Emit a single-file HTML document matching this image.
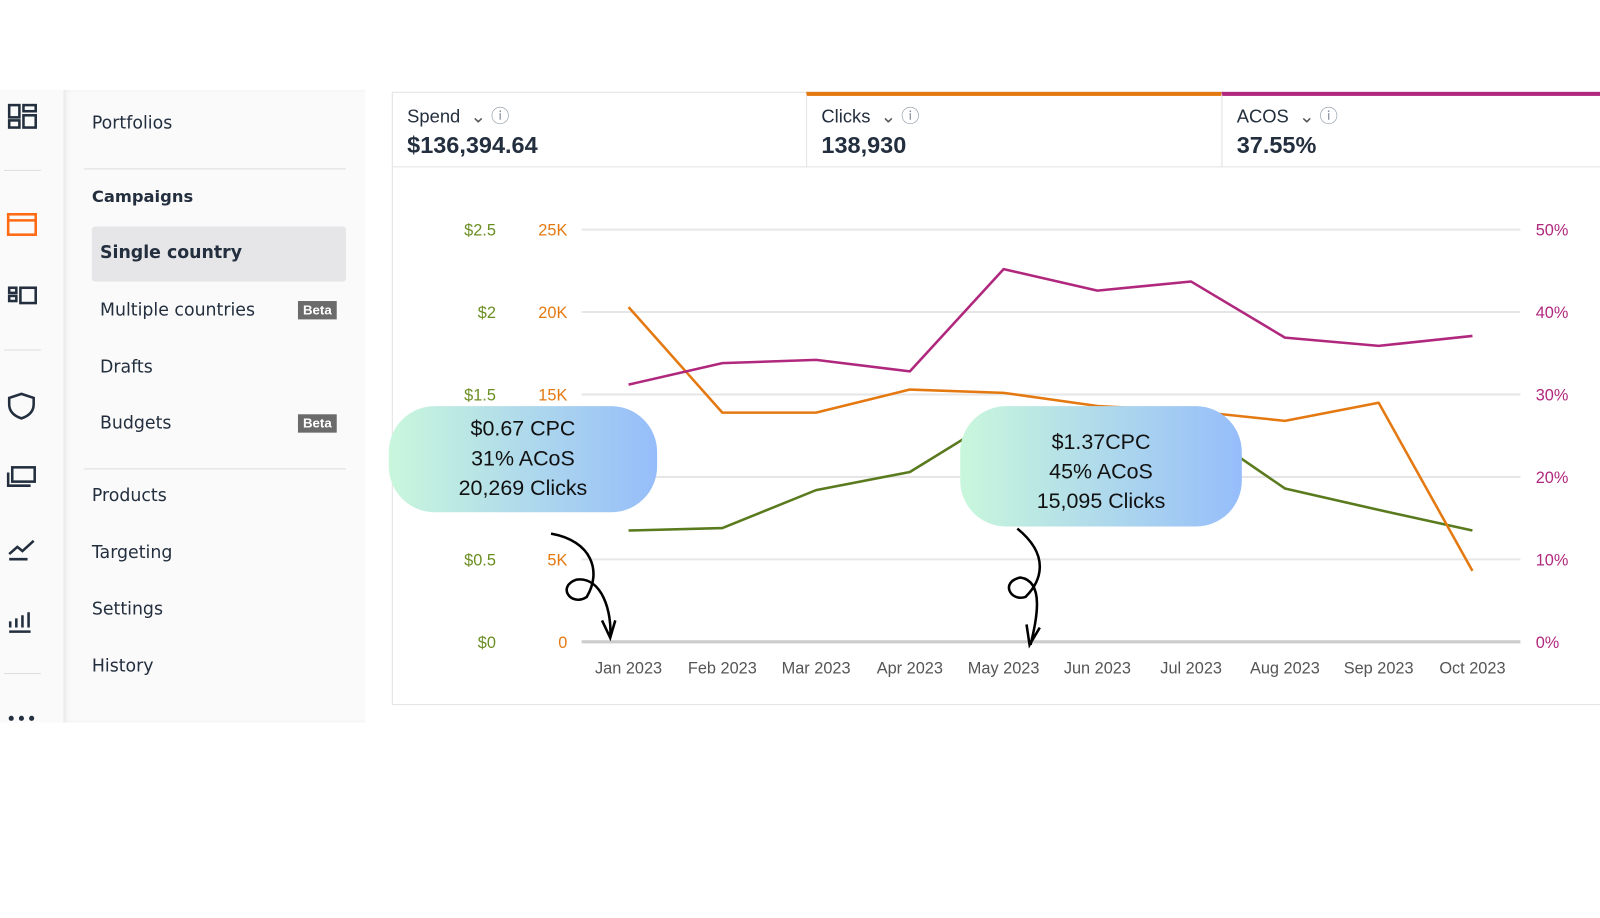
<!DOCTYPE html>
<html><head><meta charset="utf-8"><style>
body{margin:0;width:1600px;height:900px;background:#fff;font-family:"Liberation Sans",sans-serif;position:relative;overflow:hidden}
#root{position:absolute;left:0;top:0;width:1600px;height:900px;transform:scale(1.0204);transform-origin:0 0}
.abs{position:absolute}
#rail{left:0;top:88px;width:62px;height:620px;background:#fafafa}
#nav{left:62px;top:88px;width:296px;height:620px;background:#fafafa;box-shadow:inset 4px 0 6px -3px #ddd}
.nv{position:absolute;font-size:17px;color:#232f3e;font-family:"DejaVu Sans",sans-serif}
.beta{position:absolute;left:292px;width:38px;height:18px;background:#6b6b6b;color:#fff;font-size:13px;font-weight:bold;text-align:center;line-height:18px}
.hr{position:absolute;left:82px;width:257px;height:1px;background:#ddd}
.card{position:absolute;top:90px;height:74px;border:1px solid #e3e3e3;background:#fff;box-sizing:border-box}
.lab{position:absolute;left:14px;top:9px;font-size:18px;color:#232f3e}
.val{position:absolute;left:14px;top:38px;font-size:23px;font-weight:bold;color:#232f3e}
.bub{position:absolute;background:linear-gradient(90deg,#c9f7dc,#96bdfa);border-radius:45px;text-align:center;font-size:21px;color:#111;line-height:29px}
</style></head><body><div id="root">
<div class="abs" id="rail">
<svg width="62" height="620">
<g fill="none" stroke="#232f3e" stroke-width="2.5">
<rect x="9" y="15" width="10" height="12"/><rect x="23" y="15" width="12" height="6"/><rect x="9" y="30" width="10" height="7"/><rect x="23" y="25" width="12" height="12"/>
<rect x="8" y="122" width="27" height="20" stroke="#ff6a13"/><line x1="8" y1="128" x2="35" y2="128" stroke="#ff6a13"/>
<rect x="9" y="194" width="7" height="5"/><rect x="9" y="202" width="7" height="5"/><rect x="20" y="194" width="15" height="15"/>
<path d="M21 298 l12 4 v6 q0 10 -12 14 q-12 -4 -12 -14 v-6z"/>
<rect x="12" y="370" width="22" height="14"/><path d="M8 375 v13 h22"/>
<path d="M9 455 l8-7 5 4 11-10 M9 460 h18"/>
<path d="M10 527 v-6 M16 527 v-9 M22 527 v-12 M28 527 v-15 M9 531 h21"/>
</g>
<line x1="4" y1="79" x2="40" y2="79" stroke="#ddd"/><line x1="4" y1="255" x2="40" y2="255" stroke="#ddd"/><line x1="4" y1="572" x2="40" y2="572" stroke="#ddd"/>
<circle cx="11" cy="616" r="2.5" fill="#232f3e"/><circle cx="21" cy="616" r="2.5" fill="#232f3e"/><circle cx="31" cy="616" r="2.5" fill="#232f3e"/>
</svg></div>
<div class="abs" id="nav"></div>
<div class="nv" style="left:90px;top:111px">Portfolios</div>
<div class="hr" style="top:165px"></div>
<div class="nv" style="left:90px;top:183px;font-weight:bold;font-size:16px">Campaigns</div>
<div class="abs" style="left:90px;top:222px;width:249px;height:54px;background:#e6e6e8;border-radius:3px"></div>
<div class="nv" style="left:98px;top:238px;font-weight:bold">Single country</div>
<div class="nv" style="left:98px;top:294px">Multiple countries</div>
<div class="beta" style="top:295px">Beta</div>
<div class="nv" style="left:98px;top:350px">Drafts</div>
<div class="nv" style="left:98px;top:405px">Budgets</div>
<div class="beta" style="top:406px">Beta</div>
<div class="hr" style="top:459px"></div>
<div class="nv" style="left:90px;top:476px">Products</div>
<div class="nv" style="left:90px;top:532px">Targeting</div>
<div class="nv" style="left:90px;top:587px">Settings</div>
<div class="nv" style="left:90px;top:643px">History</div>

<div class="abs" style="left:384px;top:90px;width:1220px;height:601px;border:1px solid #e3e3e3;box-sizing:border-box"></div>
<div class="card" style="left:384px;width:407px"><div class="lab">Spend &nbsp;<span style="color:#555">⌄</span> <span style="color:#8a96a3">ⓘ</span></div><div class="val">$136,394.64</div></div>
<div class="card" style="left:790px;width:408px;border-top:4px solid #e47911"><div class="lab" style="top:6px">Clicks &nbsp;<span style="color:#555">⌄</span> <span style="color:#8a96a3">ⓘ</span></div><div class="val" style="top:35px">138,930</div></div>
<div class="card" style="left:1197px;width:410px;border-top:4px solid #b0287d"><div class="lab" style="top:6px">ACOS &nbsp;<span style="color:#555">⌄</span> <span style="color:#8a96a3">ⓘ</span></div><div class="val" style="top:35px">37.55%</div></div>

<svg class="abs" style="left:0;top:0" width="1600" height="900" id="chart"></svg>
<div class="bub" style="left:381px;top:398px;width:263px;height:104px;padding-top:8px;box-sizing:border-box">$0.67 CPC<br>31% ACoS<br>20,269 Clicks</div>
<div class="bub" style="left:941px;top:398px;width:276px;height:118px;padding-top:21px;box-sizing:border-box">$1.37CPC<br>45% ACoS<br>15,095 Clicks</div>
<svg class="abs" style="left:0;top:0" width="1600" height="900" fill="none" stroke="#000" stroke-width="2.5">
<path d="M540 523 C580 530 590 560 575 585 C560 595 545 575 565 568 C590 565 600 600 598 625 M590 608 l8 17 l5 -17"/>
<path d="M997 518 C1030 545 1020 570 1005 585 C990 590 980 570 1000 566 C1025 570 1015 610 1010 632 M1006 612 l3 20 l10 -17"/>
</svg>
</div>
<script>
const months=["Jan 2023","Feb 2023","Mar 2023","Apr 2023","May 2023","Jun 2023","Jul 2023","Aug 2023","Sep 2023","Oct 2023"];
const clicks=[20.3,13.9,13.9,15.3,15.1,14.3,14.0,13.4,14.5,4.3];
const acos=[31.2,33.8,34.2,32.8,45.2,42.6,43.7,36.9,35.9,37.1];
const cpc=[0.675,0.69,0.92,1.03,1.38,1.35,1.32,0.93,0.80,0.675];
const clickTicks=["0","5K","10K","15K","20K","25K"];
const cpcTicks=["$0","$0.5","$1","$1.5","$2","$2.5"];
const acosTicks=["0%","10%","20%","30%","40%","50%"];
const svg=document.getElementById('chart');const NS="http://www.w3.org/2000/svg";
const y0=629,y1=225,x0=616,x1=1443;
const yC=v=>y0-(v/25)*(y0-y1),yA=v=>y0-(v/50)*(y0-y1),yS=v=>y0-(v/2.5)*(y0-y1);
const xM=i=>x0+i*(x1-x0)/(months.length-1);
function mk(t,a){const e=document.createElementNS(NS,t);for(const k in a)e.setAttribute(k,a[k]);svg.appendChild(e);return e;}
for(let i=0;i<6;i++){const y=y0-i*(y0-y1)/5;
const g=mk('line',{x1:570,x2:1490,y1:y,y2:y,stroke:i==0?'#ccc':'#e6e6e6','stroke-width':i==0?3:2});

if(i!=2){const a=mk('text',{x:486,y:y+6,'text-anchor':'end','font-size':16,fill:'#6b8e23'});a.textContent=cpcTicks[i];

const b=mk('text',{x:556,y:y+6,'text-anchor':'end','font-size':16,fill:'#e47911'});b.textContent=clickTicks[i];
}
const c=mk('text',{x:1505,y:y+6,'font-size':16,fill:'#b0287d'});c.textContent=acosTicks[i];
}
months.forEach((m,i)=>{const t=mk('text',{x:xM(i),y:660,'text-anchor':'middle','font-size':16,fill:'#555'});t.textContent=m;
});
function line(d,f,col,nm){const p=mk('polyline',{points:d.map((v,i)=>xM(i)+','+f(v)).join(' '),fill:'none',stroke:col,'stroke-width':2.5,'stroke-linejoin':'round'});
}
line(cpc,yS,'#5a7a1e','cpc-line');line(clicks,yC,'#e47911','clicks-line');line(acos,yA,'#b0287d','acos-line');
</script>
</body></html>
